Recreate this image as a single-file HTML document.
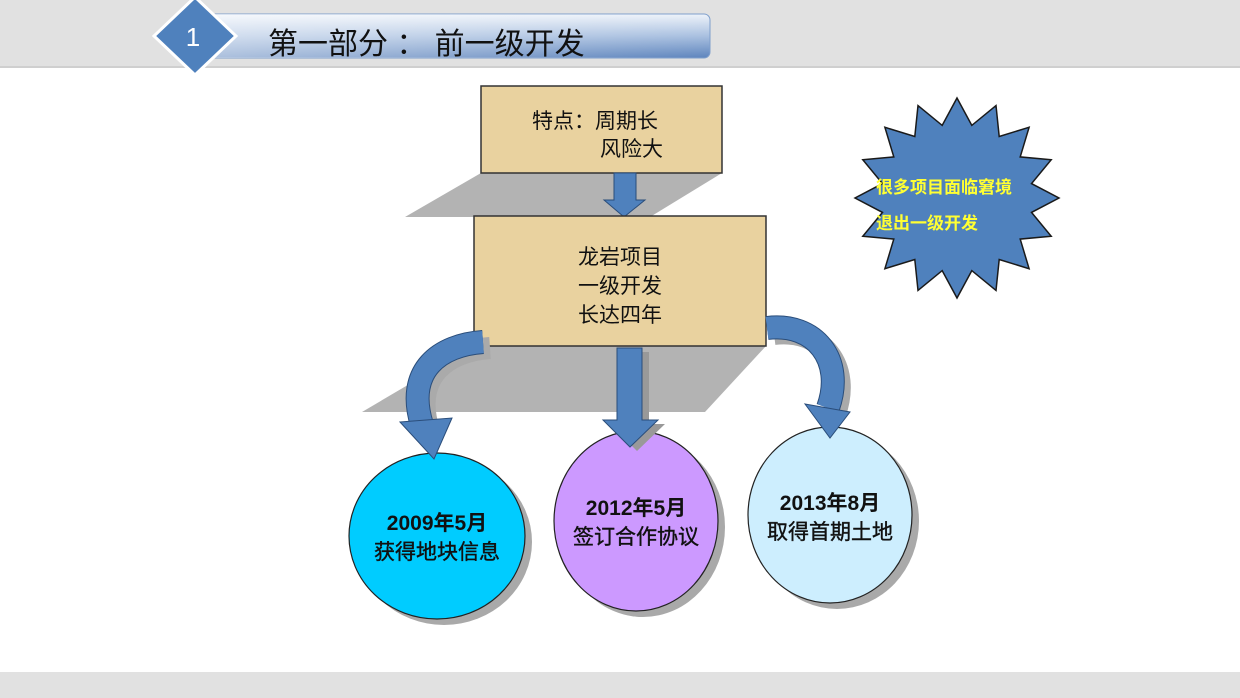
<!DOCTYPE html>
<html><head><meta charset="utf-8"><style>
html,body{margin:0;padding:0;width:1240px;height:698px;overflow:hidden;background:#fff}
text{font-family:"Liberation Sans","Noto Sans CJK SC",sans-serif}
</style></head><body>
<svg width="1240" height="698" viewBox="0 0 1240 698" xmlns="http://www.w3.org/2000/svg">
<defs>
<linearGradient id="hb" x1="0" y1="0" x2="0" y2="1">
<stop offset="0" stop-color="#eef3fa"/><stop offset="0.5" stop-color="#a9c0e0"/><stop offset="1" stop-color="#5d84bd"/>
</linearGradient>
<linearGradient id="hb2" x1="0" y1="0" x2="1" y2="0">
<stop offset="0" stop-color="#fff" stop-opacity="0.5"/><stop offset="1" stop-color="#fff" stop-opacity="0"/>
</linearGradient>
</defs>
<rect x="0" y="0" width="1240" height="67" fill="#e1e1e1"/>
<rect x="0" y="66" width="1240" height="2" fill="#cfcfcf"/>
<rect x="0" y="672" width="1240" height="26" fill="#e1e1e1"/>
<!-- header -->
<rect x="196" y="14" width="514" height="44" rx="6" fill="url(#hb)" stroke="#7f9fcc"/>
<rect x="196" y="14" width="514" height="44" rx="6" fill="url(#hb2)"/>
<polygon points="195,-3 236,36 195,75 154,36" fill="#4f81bd" stroke="#fff" stroke-width="3"/>
<text x="193" y="46" font-size="26" fill="#fff" text-anchor="middle">1</text>
<text x="268" y="54" font-size="30" fill="#111">第一部分 ： 前一级开发</text>
<!-- shadows -->
<polygon points="405,217 481,173 722,173 650,217" fill="#b3b3b3"/>
<polygon points="362,412 474,346 766,346 705,412" fill="#b3b3b3"/>
<!-- box1 -->
<rect x="481" y="86" width="241" height="87" fill="#e9d29f" stroke="#333" stroke-width="1.5"/>
<text x="532" y="128" font-size="21" fill="#111">特点：周期长</text>
<text x="600" y="156" font-size="21" fill="#111">风险大</text>
<!-- arrow1 -->
<polygon points="614,173 636,173 636,200 645,200 624,217 604,200 614,200" fill="#4f81bd" stroke="#2a4d7a"/>
<!-- box2 -->
<rect x="474" y="216" width="292" height="130" fill="#e9d29f" stroke="#333" stroke-width="1.5"/>
<text x="620" y="264" font-size="21" fill="#111" text-anchor="middle">龙岩项目</text>
<text x="620" y="293" font-size="21" fill="#111" text-anchor="middle">一级开发</text>
<text x="620" y="322" font-size="21" fill="#111" text-anchor="middle">长达四年</text>
<!-- circle shadows -->
<ellipse cx="444" cy="542" rx="88" ry="83" fill="#a9a9a9"/>
<ellipse cx="643" cy="527" rx="82" ry="90" fill="#a9a9a9"/>
<ellipse cx="837" cy="521" rx="82" ry="88" fill="#a9a9a9"/>
<!-- circles -->
<ellipse cx="437" cy="536" rx="88" ry="83" fill="#00ccff" stroke="#222" stroke-width="1.2"/>
<ellipse cx="636" cy="521" rx="82" ry="90" fill="#cc99ff" stroke="#222" stroke-width="1.2"/>
<ellipse cx="830" cy="515" rx="82" ry="88" fill="#cdeefe" stroke="#222" stroke-width="1.2"/>
<!-- middle arrow -->
<polygon points="624,352 649,352 649,424 665,424 637,451 610,424 624,424" fill="#999"/>
<polygon points="617,348 642,348 642,420 658,420 630,447 603,420 617,420" fill="#4f81bd" stroke="#2a4d7a"/>
<!-- left curved arrow -->
<path d="M490,348 C447,351 412,376 429,431" fill="none" stroke="#aaa" stroke-width="22"/>
<path d="M483,342 C440,345 405,370 422,425" fill="none" stroke="#2a4d7a" stroke-width="24"/>
<path d="M483,342 C440,345 405,370 422,425" fill="none" stroke="#4f81bd" stroke-width="22"/>
<polygon points="400,422 452,418 434,459" fill="#4f81bd" stroke="#2a4d7a"/>
<!-- right curved arrow -->
<path d="M774,334 C822,328 852,366 835,414" fill="none" stroke="#aaa" stroke-width="22"/>
<path d="M767,328 C815,322 845,360 828,408" fill="none" stroke="#2a4d7a" stroke-width="24"/>
<path d="M767,328 C815,322 845,360 828,408" fill="none" stroke="#4f81bd" stroke-width="22"/>
<polygon points="805,404 850,412 830,438" fill="#4f81bd" stroke="#2a4d7a"/>
<!-- circle text -->
<g font-weight="bold" fill="#111" text-anchor="middle" font-size="21">
<text x="437" y="530">2009年5月</text>
<text x="636" y="515">2012年5月</text>
<text x="830" y="510">2013年8月</text>
</g>
<g fill="#111" text-anchor="middle" font-size="21" stroke="#111" stroke-width="0.4">
<text x="437" y="559">获得地块信息</text>
<text x="636" y="544">签订合作协议</text>
<text x="830" y="539">取得首期土地</text>
</g>
<!-- star -->
<polygon id="star" fill="#4f81bd" stroke="#1a1a1a" stroke-width="1.5" points=""/>
<script>
(function(){var cx=957,cy=198,R=102,Ry=100,r=76,ry=74,n=16,p=[];
for(var i=0;i<2*n;i++){var a=-Math.PI/2+i*Math.PI/n;var big=i%2==0;
p.push((cx+(big?R:r)*Math.cos(a)).toFixed(1)+","+(cy+(big?Ry:ry)*Math.sin(a)).toFixed(1));}
document.getElementById('star').setAttribute('points',p.join(' '));})();
</script>
<text x="876" y="193" font-size="17" font-weight="bold" fill="#ffff33">很多项目面临窘境</text>
<text x="876" y="229" font-size="17" font-weight="bold" fill="#ffff33">退出一级开发</text>
</svg>
</body></html>
